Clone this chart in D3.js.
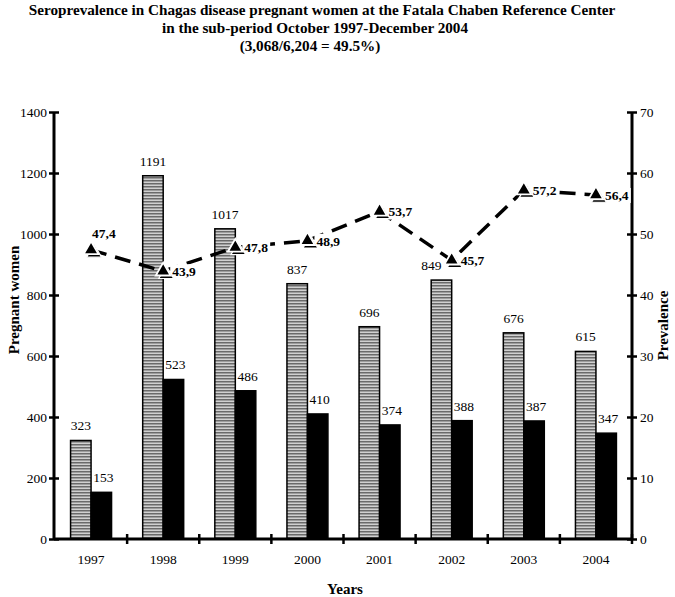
<!DOCTYPE html>
<html><head><meta charset="utf-8">
<script src="https://cdn.jsdelivr.net/npm/d3@7"></script>
<style>
body{margin:0;background:#fff;}
</style></head>
<body><svg id="c" width="675" height="597"></svg>
<script>
const years = ["1997","1998","1999","2000","2001","2002","2003","2004"];
const totalWomen = [323,1191,1017,837,696,849,676,615];
const positiveWomen = [153,523,486,410,374,388,387,347];
const prevalence = [47.4,43.9,47.8,48.9,53.7,45.7,57.2,56.4];
const leftTicks = [0,200,400,600,800,1000,1200,1400];
const rightTicks = [0,10,20,30,40,50,60,70];
const titleLines = ["Seroprevalence in Chagas disease pregnant women at the Fatala Chaben Reference Center",
  "in the sub-period October 1997-December 2004","(3,068/6,204 = 49.5%)"];

const FONT = '"Liberation Serif"';
const svg = d3.select("#c");
const L = 55, R = 632, T = 112, B = 539;

const x = d3.scaleBand().domain(years).range([L, R]).padding(0);
const xs = d3.scaleBand().domain(["total","positive"]).range([0, x.bandwidth()]).paddingInner(0).paddingOuter(0.76);
const yL = d3.scaleLinear().domain([0,1400]).range([B, T]);
const yR = d3.scaleLinear().domain([0,70]).range([B, T]);

// pattern
const defs = svg.append("defs");
const pat = defs.append("pattern").attr("id","stripes").attr("patternUnits","userSpaceOnUse")
  .attr("width",4).attr("height",3);
pat.append("rect").attr("width",4).attr("height",3).attr("fill","#d0d0d0");
pat.append("rect").attr("width",4).attr("height",1.5).attr("fill","#6a6a6a");

// title
svg.append("g").selectAll("text").data(titleLines).join("text")
  .attr("x", (d,i)=>[322,315,310][i]).attr("y", (d,i)=>15+i*18).attr("text-anchor","middle")
  .attr("font-weight","bold").attr("font-size",15.2).attr("fill","#000").text(d=>d);

// bars
const data = years.map((y,i)=>({year:y,total:totalWomen[i],positive:positiveWomen[i],prev:prevalence[i]}));
const gb = svg.append("g");
gb.selectAll("rect.t").data(data).join("rect").attr("class","t")
  .attr("x", d=>x(d.year)+xs("total")).attr("width", xs.bandwidth())
  .attr("y", d=>yL(d.total)).attr("height", d=>B-yL(d.total))
  .attr("fill","url(#stripes)").attr("stroke","#000").attr("stroke-width",1.5);
gb.selectAll("rect.p").data(data).join("rect").attr("class","p")
  .attr("x", d=>x(d.year)+xs("positive")).attr("width", xs.bandwidth())
  .attr("y", d=>yL(d.positive)).attr("height", d=>B-yL(d.positive))
  .attr("fill","#000").attr("stroke","#000").attr("stroke-width",1.5);

// bar labels
gb.selectAll("text.t").data(data).join("text").attr("class","t")
  .attr("x", d=>x(d.year)+xs("total")+xs.bandwidth()/2 + (d.year==="2002"?-10:0))
  .attr("y", d=>yL(d.total)-10).attr("text-anchor","middle").attr("font-size",13.5).text(d=>d.total);
gb.selectAll("text.p").data(data).join("text").attr("class","p")
  .attr("x", d=>x(d.year)+xs("positive")+xs.bandwidth()/2+2)
  .attr("y", d=>yL(d.positive)-10).attr("text-anchor","middle").attr("font-size",13.5).text(d=>d.positive);

// axes
function styleAxis(g){
  g.attr("font-family",null);
  g.select(".domain").remove();
  g.selectAll(".tick line").attr("stroke","#000").attr("stroke-width",2.5);
  g.selectAll(".tick text").attr("font-size",13.5).attr("fill","#000");
}
const axL = svg.append("g").attr("transform",`translate(${L-1},0)`)
  .call(d3.axisLeft(yL).tickValues(leftTicks).tickFormat(d3.format("d")).tickSize(5).tickPadding(3).tickSizeOuter(0));
styleAxis(axL);
axL.selectAll(".tick line").attr("x1",5).attr("x2",-5);
axL.selectAll(".tick text").attr("x",-7);
axL.append("line").attr("x1",0).attr("x2",0).attr("y1",T).attr("y2",B).attr("stroke","#000").attr("stroke-width",3);

const axR = svg.append("g").attr("transform",`translate(${R},0)`)
  .call(d3.axisRight(yR).tickValues(rightTicks).tickFormat(d3.format("d")).tickSize(5).tickPadding(3).tickSizeOuter(0));
styleAxis(axR);
axR.selectAll(".tick line").attr("x1",-5).attr("x2",5);
axR.selectAll(".tick text").attr("x",8);
axR.insert("line",":first-child").attr("x1",0).attr("x2",0).attr("y1",T).attr("y2",B).attr("stroke","#000").attr("stroke-width",3);

const axB = svg.append("g").attr("transform",`translate(0,${B})`)
  .call(d3.axisBottom(x).tickSize(0).tickPadding(15));
styleAxis(axB);
axB.append("line").attr("x1",L-1).attr("x2",R).attr("y1",0).attr("y2",0).attr("stroke","#000").attr("stroke-width",3);
axB.selectAll("line.sep").data(years.slice(1).concat(["end"])).join("line").attr("class","sep")
  .attr("x1", (d,i)=> i<years.length-1 ? x(d) : R).attr("x2",(d,i)=> i<years.length-1 ? x(d) : R)
  .attr("y1",-5).attr("y2",5).attr("stroke","#000").attr("stroke-width",2.5);

// axis titles
svg.append("text").attr("transform",`translate(19,300) rotate(-90)`).attr("text-anchor","middle")
  .attr("font-weight","bold").attr("font-size",15).text("Pregnant women");
svg.append("text").attr("transform",`translate(668,${(T+B)/2}) rotate(-90)`).attr("text-anchor","middle")
  .attr("font-weight","bold").attr("font-size",15).text("Prevalence");
svg.append("text").attr("x",345).attr("y",594).attr("text-anchor","middle")
  .attr("font-weight","bold").attr("font-size",15).text("Years");

// line
const cx = d=>x(d.year)+x.bandwidth()/2;
const line = d3.line().x(cx).y(d=>yR(d.prev));
svg.append("path").datum(data).attr("d",line).attr("fill","none").attr("stroke","#000")
  .attr("stroke-width",3.5).attr("stroke-dasharray","16,9");

// prevalence labels with white boxes
const lg = svg.append("g");
data.forEach((d,i)=>{
  const px = i===0 ? cx(d)+1 : cx(d)+9;
  const py = i===0 ? yR(d.prev)-12 : yR(d.prev)+5;
  const t = lg.append("text").attr("x",px).attr("y",py).attr("font-weight","bold").attr("font-size",13.5)
    .style("font-family",FONT).text(String(d.prev).replace(".",","));
  const bb = t.node().getBBox();
  lg.insert("rect","text").attr("x",bb.x-2).attr("y",bb.y).attr("width",bb.width+4).attr("height",bb.height)
    .attr("fill","#fff");
});

// markers
const tri = d3.symbol(d3.symbolTriangle, 95);
const mg = svg.append("g");
mg.selectAll("path.sh").data(data).join("path").attr("class","sh")
  .attr("transform", d=>`translate(${cx(d)+3},${yR(d.prev)+3})`).attr("d",tri())
  .attr("fill","#000").attr("stroke","#fff").attr("stroke-width",1.2);
mg.selectAll("path.m").data(data).join("path").attr("class","m")
  .attr("transform", d=>`translate(${cx(d)},${yR(d.prev)})`).attr("d",tri())
  .attr("fill","#000").attr("stroke","#fff").attr("stroke-width",1.8);

svg.selectAll("text").style("font-family",FONT);
</script></body></html>
